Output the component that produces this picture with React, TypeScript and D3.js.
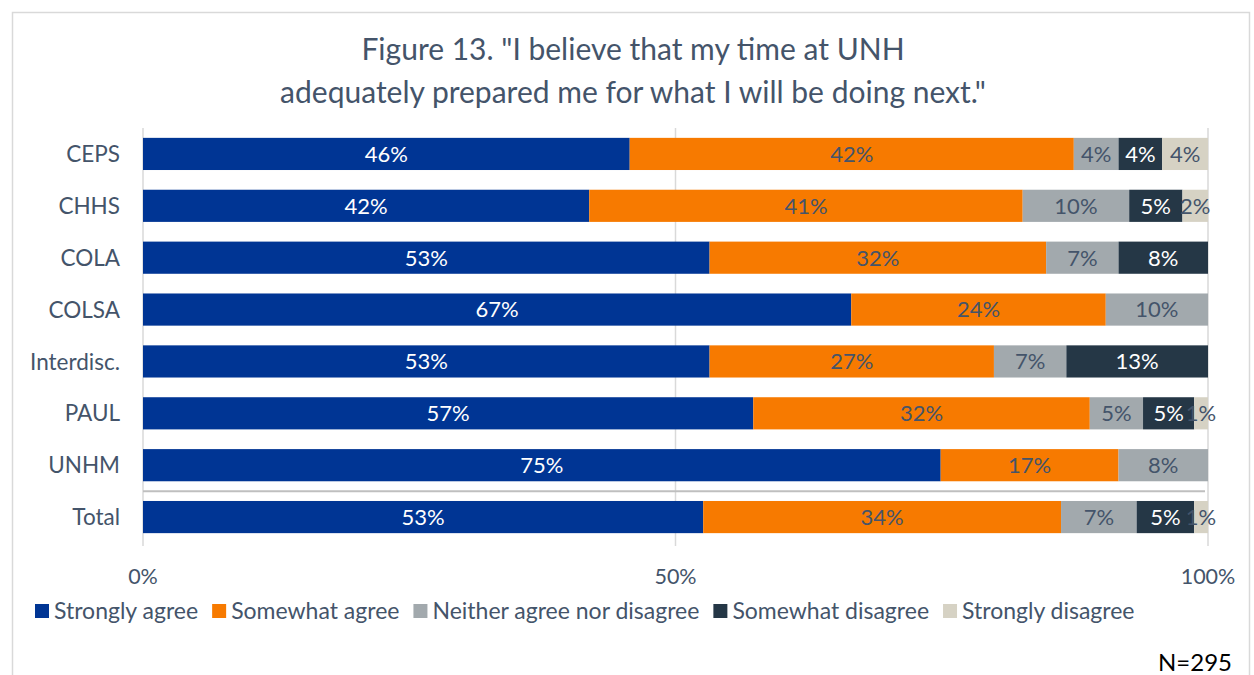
import React, { useEffect, useRef } from "react";
import * as d3 from "d3";

const categories = ["CEPS", "CHHS", "COLA", "COLSA", "Interdisc.", "PAUL", "UNHM", "Total"];
const seriesNames = ["Strongly agree", "Somewhat agree", "Neither agree nor disagree", "Somewhat disagree", "Strongly disagree"];
const stronglyAgree = [45.7, 41.9, 53.2, 66.5, 53.2, 57.3, 74.9, 52.6];
const somewhatAgree = [41.7, 40.7, 31.6, 23.9, 26.7, 31.6, 16.7, 33.6];
const neither = [4.2, 10.0, 6.8, 9.6, 6.8, 5.0, 8.4, 7.1];
const somewhatDisagree = [4.1, 5.0, 8.4, 0, 13.3, 4.8, 0, 5.4];
const stronglyDisagree = [4.3, 2.4, 0, 0, 0, 1.3, 0, 1.3];
const tickValues = [0, 50, 100];
const tickLabels = ["0%", "50%", "100%"];

const colors = ["#003594", "#F77A00", "#A2A9AD", "#253746", "#D6D2C4"];
const labelColors = ["#ffffff", "#44546A", "#44546A", "#ffffff", "#44546A"];
const TEXT = "#44546A";
const FONT = "Lato, 'Noto Sans', sans-serif";

export default function App() {
  const ref = useRef<SVGSVGElement | null>(null);

  useEffect(() => {
    const svg = d3.select(ref.current);
    svg.selectAll("*").remove();

    svg.append("rect").attr("x", 12.5).attr("y", 12.5).attr("width", 1237).attr("height", 680)
      .attr("fill", "#fff").attr("stroke", "#D9D9D9").attr("stroke-width", 1.5);

    const series = [stronglyAgree, somewhatAgree, neither, somewhatDisagree, stronglyDisagree];
    const rows = categories.map((c, i) => {
      const r: any = { cat: c };
      seriesNames.forEach((s, k) => (r[s] = series[k][i]));
      return r;
    });
    const stack = d3.stack<any>().keys(seriesNames)(rows);

    const x = d3.scaleLinear().domain([0, 100]).range([143, 1208]);
    const y = d3.scaleBand<string>().domain(categories).range([128, 543]).paddingInner(0.38).paddingOuter(0.19);

    // title
    const title = svg.append("text").attr("text-anchor", "middle").attr("fill", TEXT)
      .attr("font-family", FONT).attr("font-size", 30);
    title.append("tspan").attr("x", 633).attr("y", 60).text('Figure 13. "I believe that my time at UNH');
    title.append("tspan").attr("x", 633).attr("y", 103).text('adequately prepared me for what I will be doing next."');

    // gridlines
    svg.append("g").selectAll("line").data(tickValues).join("line")
      .attr("x1", d => x(d)).attr("x2", d => x(d)).attr("y1", 128).attr("y2", 546)
      .attr("stroke", "#D9D9D9").attr("stroke-width", 1.5);

    // separator before Total
    const sepY = (y("UNHM")! + y.bandwidth() + y("Total")!) / 2;
    svg.append("line").attr("x1", x(0)).attr("x2", x(100) - 3).attr("y1", sepY).attr("y2", sepY)
      .attr("stroke", "#BFBFBF").attr("stroke-width", 2);

    // bars
    stack.forEach((layer, k) => {
      const g = svg.append("g");
      g.selectAll("rect").data(layer.filter(d => d[1] - d[0] > 0)).join("rect")
        .attr("x", d => x(d[0])).attr("width", d => x(d[1]) - x(d[0]))
        .attr("y", d => y(d.data.cat)!).attr("height", y.bandwidth())
        .attr("fill", colors[k]);
    });
    stack.forEach((layer, k) => {
      const g = svg.append("g");
      g.selectAll("text").data(layer.filter(d => d[1] - d[0] > 0)).join("text")
        .attr("x", d => (x(d[0]) + x(d[1])) / 2)
        .attr("y", d => y(d.data.cat)! + y.bandwidth() / 2)
        .attr("dy", "0.36em").attr("text-anchor", "middle")
        .attr("font-family", FONT).attr("font-size", 22).attr("fill", labelColors[k])
        .text(d => Math.round(d[1] - d[0]) + "%");
    });

    // category labels
    svg.append("g").selectAll("text").data(categories).join("text")
      .attr("x", 120).attr("y", d => y(d)! + y.bandwidth() / 2).attr("dy", "0.36em")
      .attr("text-anchor", "end").attr("font-family", FONT).attr("font-size", 22.5).attr("fill", TEXT)
      .text(d => d);

    // tick labels
    svg.append("g").selectAll("text").data(tickValues).join("text")
      .attr("x", d => x(d)).attr("y", 576).attr("dy", "0.36em").attr("text-anchor", "middle")
      .attr("font-family", FONT).attr("font-size", 21.5).attr("fill", TEXT)
      .text((d, i) => tickLabels[i]);

    // legend
    const lg = svg.append("g");
    let cx = 35;
    seriesNames.forEach((s, k) => {
      lg.append("rect").attr("x", cx).attr("y", 604).attr("width", 14).attr("height", 14).attr("fill", colors[k]);
      const t = lg.append("text").attr("x", cx + 19).attr("y", 611).attr("dy", "0.36em")
        .attr("font-family", FONT).attr("font-size", 23).attr("fill", TEXT).text(s);
      const w = (t.node() as SVGTextElement).getComputedTextLength();
      cx += 19 + w + 14;
    });

    svg.append("text").attr("x", 1232).attr("y", 662).attr("dy", "0.36em").attr("text-anchor", "end")
      .attr("font-family", FONT).attr("font-size", 24).attr("fill", "#000").text("N=295");
  }, []);

  return (
    <div style={{ position: "fixed", left: 0, top: 0, width: 1254, height: 675, overflow: "hidden", background: "#fff" }}>
      <svg ref={ref} width={1254} height={675} style={{ display: "block" }} />
    </div>
  );
}
